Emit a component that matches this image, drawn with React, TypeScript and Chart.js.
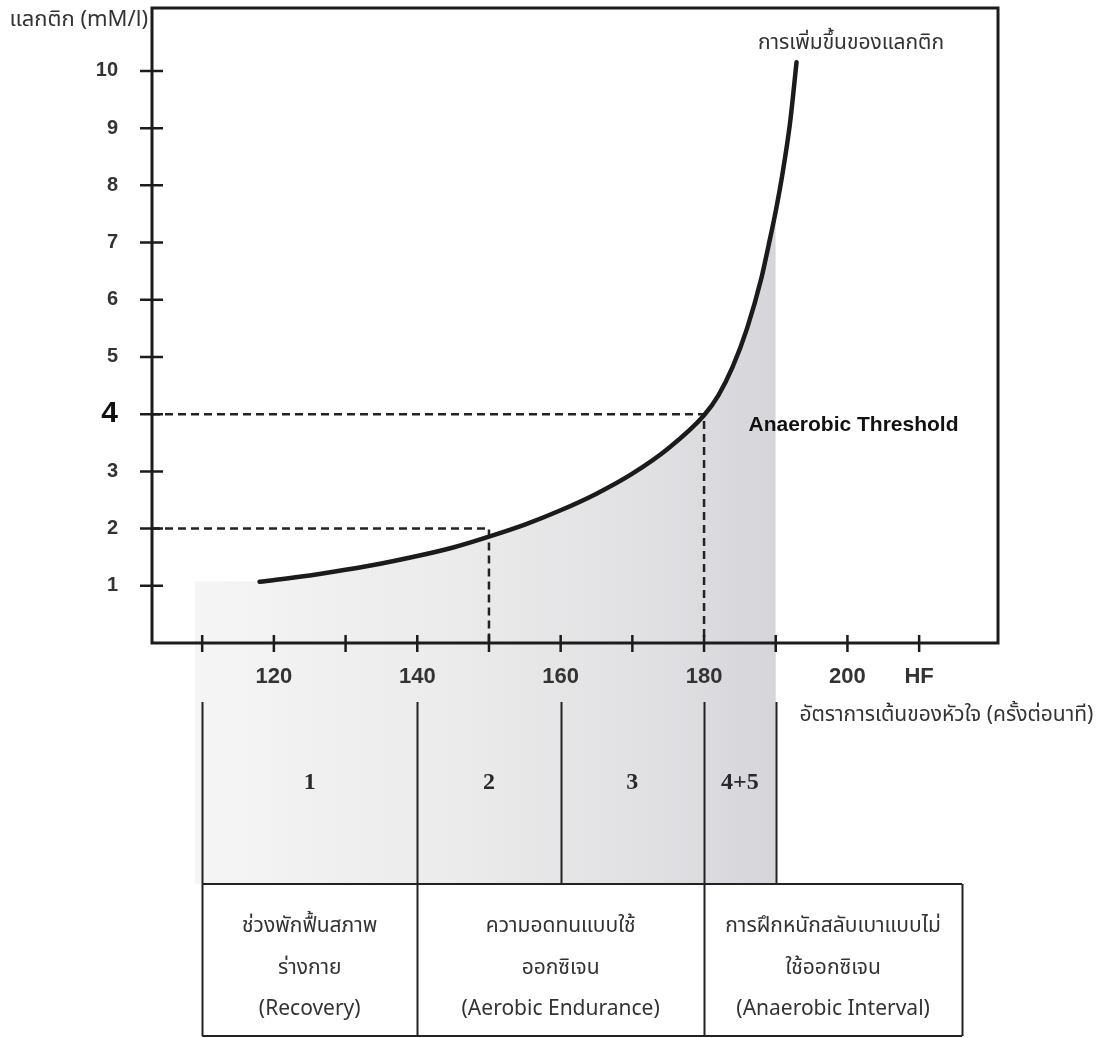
import React, { useEffect, useRef } from 'react';
import { Chart, registerables } from 'chart.js';

Chart.register(...registerables);

// ---- data ----
const curveHF = [118, 125, 130, 135, 140, 145, 150, 155, 160, 165, 170, 175, 180, 182, 184, 186, 188, 189, 190, 191, 192, 192.9];
const curveLactate = [1.07, 1.18, 1.28, 1.39, 1.52, 1.67, 1.86, 2.07, 2.32, 2.61, 2.96, 3.4, 3.98, 4.33, 4.83, 5.5, 6.38, 6.95, 7.55, 8.25, 9.1, 10.15];

const refHF = [150, 180];
const refLactate = [2, 4];

const yTickValues = [1, 2, 3, 4, 5, 6, 7, 8, 9, 10];
const xTickValues = [110, 120, 130, 140, 150, 160, 170, 180, 190, 200, 210];
const xTickText = ['', '120', '', '140', '', '160', '', '180', '', '200', 'HF'];

const shadeFrom = 109;
const shadeTo = 190;
const shadeLeftLevel = 1.08;

const zoneBounds = [110, 140, 160, 180, 190];
const zoneLabels = ['1', '2', '3', '4+5'];
const boxBounds = [110, 140, 180, 216];
const boxTexts = [
  ['ช่วงพักฟื้นสภาพ', 'ร่างกาย', '(Recovery)'],
  ['ความอดทนแบบใช้', 'ออกซิเจน', '(Aerobic Endurance)'],
  ['การฝึกหนักสลับเบาแบบไม่', 'ใช้ออกซิเจน', '(Anaerobic Interval)'],
];

const yTitle = 'แลกติก (mM/l)';
const xTitle = 'อัตราการเต้นของหัวใจ (ครั้งต่อนาที)';
const curveLabel = 'การเพิ่มขึ้นของแลกติก';
const curveLabelPos = [200.5, 10.45];
const thresholdLabel = 'Anaerobic Threshold';
const thresholdLabelPos = [186.2, 3.81];
const xTitleHF = 193.3;

const X_MIN = 103;
const X_MAX = 221;
const Y_MIN = 0;
const Y_MAX = 11.1;

const THAI = '"Noto Sans Thai", "Noto Sans", "DejaVu Sans", sans-serif';
const SANS = '"Liberation Sans", Arial, sans-serif';
const SERIF = '"Liberation Serif", "DejaVu Serif", serif';

function makeGradient(chart: any) {
  const c = chart.ctx;
  const x = chart.scales.x;
  const g = c.createLinearGradient(x.getPixelForValue(shadeFrom), 0, x.getPixelForValue(shadeTo), 0);
  g.addColorStop(0, '#f5f5f5');
  g.addColorStop(0.45, '#ebebeb');
  g.addColorStop(0.8, '#e0e0e3');
  g.addColorStop(1, '#d5d5da');
  return g;
}

const diagramPlugin = {
  id: 'diagram',
  beforeDraw(chart: any) {
    const { ctx, chartArea, scales } = chart;
    const x = scales.x;
    const b = chartArea.bottom;
    ctx.save();
    ctx.fillStyle = makeGradient(chart);
    const x0 = x.getPixelForValue(shadeFrom);
    const x1 = x.getPixelForValue(shadeTo);
    ctx.fillRect(x0, b, x1 - x0, 241);
    ctx.restore();
  },
  afterDraw(chart: any) {
    const { ctx, chartArea, scales } = chart;
    const x = scales.x;
    const y = scales.y;
    const { left, right, top, bottom } = chartArea;
    ctx.save();
    // frame
    ctx.strokeStyle = '#1c1c1c';
    ctx.lineWidth = 3;
    ctx.strokeRect(left, top, right - left, bottom - top);
    // crossing ticks
    ctx.lineWidth = 2.5;
    ctx.beginPath();
    yTickValues.forEach((v) => {
      const py = y.getPixelForValue(v);
      ctx.moveTo(left - 12, py);
      ctx.lineTo(left + 11, py);
    });
    xTickValues.forEach((v) => {
      const px = x.getPixelForValue(v);
      ctx.moveTo(px, bottom - 8);
      ctx.lineTo(px, bottom + 9);
    });
    ctx.stroke();

    // texts
    ctx.fillStyle = '#333';
    ctx.textBaseline = 'middle';
    ctx.font = `22px ${THAI}`;
    ctx.textAlign = 'right';
    ctx.fillText(yTitle, left - 4, top + 14);
    ctx.font = `21px ${THAI}`;
    ctx.textAlign = 'center';
    ctx.fillText(curveLabel, x.getPixelForValue(curveLabelPos[0]), y.getPixelForValue(curveLabelPos[1]));
    ctx.textAlign = 'left';
    ctx.fillText(xTitle, x.getPixelForValue(xTitleHF), bottom + 74);
    ctx.fillStyle = '#111';
    ctx.font = `bold 21px ${SANS}`;
    ctx.fillText(thresholdLabel, x.getPixelForValue(thresholdLabelPos[0]), y.getPixelForValue(thresholdLabelPos[1]));

    // lower diagram
    const zTop = bottom + 59;
    const bTop = bottom + 241;
    const bBot = bottom + 393;
    ctx.strokeStyle = '#222';
    ctx.lineWidth = 2;
    ctx.beginPath();
    zoneBounds.forEach((v) => {
      const px = Math.round(x.getPixelForValue(v)) + 0.5;
      ctx.moveTo(px, zTop);
      ctx.lineTo(px, bTop);
    });
    const bx0 = x.getPixelForValue(boxBounds[0]);
    const bx1 = x.getPixelForValue(boxBounds[boxBounds.length - 1]);
    ctx.moveTo(bx0, bTop);
    ctx.lineTo(bx1, bTop);
    ctx.moveTo(bx0, bBot);
    ctx.lineTo(bx1, bBot);
    boxBounds.forEach((v) => {
      const px = Math.round(x.getPixelForValue(v)) + 0.5;
      ctx.moveTo(px, bTop);
      ctx.lineTo(px, bBot);
    });
    ctx.stroke();

    ctx.fillStyle = '#2a2a2a';
    ctx.font = `bold 24px ${SERIF}`;
    ctx.textAlign = 'center';
    zoneLabels.forEach((t, i) => {
      const cx = (x.getPixelForValue(zoneBounds[i]) + x.getPixelForValue(zoneBounds[i + 1])) / 2;
      ctx.fillText(t, cx, bottom + 140);
    });

    ctx.fillStyle = '#333';
    ctx.font = `21px ${THAI}`;
    const lineOffsets = [285, 327, 368];
    boxTexts.forEach((lines, i) => {
      const cx = (x.getPixelForValue(boxBounds[i]) + x.getPixelForValue(boxBounds[i + 1])) / 2;
      lines.forEach((t, j) => ctx.fillText(t, cx, bottom + lineOffsets[j]));
    });
    ctx.restore();
  },
};

export default function App() {
  const ref = useRef<HTMLCanvasElement>(null);
  useEffect(() => {
    const curve = curveHF.map((h, i) => ({ x: h, y: curveLactate[i] }));
    const shade = [{ x: shadeFrom, y: shadeLeftLevel }, ...curve.filter((p) => p.x <= shadeTo)];
    const refSets = refHF.map((h, i) => ({
      data: [
        { x: X_MIN, y: refLactate[i] },
        { x: h, y: refLactate[i] },
        { x: h, y: Y_MIN },
      ],
      borderColor: '#222',
      borderWidth: 2.5,
      borderDash: [8, 5],
      pointRadius: 0,
      tension: 0,
      fill: false,
      order: 2,
    }));
    const zeroPad = (s: any) => {
      s.paddingTop = 0;
      s.paddingBottom = 0;
      s.paddingLeft = 0;
      s.paddingRight = 0;
    };
    const chart = new Chart(ref.current as HTMLCanvasElement, {
      type: 'line',
      data: {
        datasets: [
          {
            data: curve,
            borderColor: '#1b1b1b',
            borderWidth: 4.5,
            pointRadius: 0,
            cubicInterpolationMode: 'monotone',
            fill: false,
            order: 0,
            borderCapStyle: 'round',
          } as any,
          ...refSets,
          {
            data: shade,
            borderWidth: 0,
            borderColor: 'rgba(0,0,0,0)',
            pointRadius: 0,
            cubicInterpolationMode: 'monotone',
            fill: 'origin',
            backgroundColor: (c: any) => (c.chart.chartArea ? makeGradient(c.chart) : '#e6e6e6'),
            order: 3,
          } as any,
        ],
      },
      options: {
        responsive: false,
        animation: false,
        layout: { autoPadding: false, padding: { left: 0, top: 8, right: 110, bottom: 0 } },
        plugins: { legend: { display: false }, tooltip: { enabled: false } },
        scales: {
          x: {
            type: 'linear',
            min: X_MIN,
            max: X_MAX,
            grid: { display: false, drawTicks: false },
            border: { display: false },
            afterBuildTicks: (s: any) => {
              s.ticks = xTickValues.map((v) => ({ value: v }));
            },
            afterFit: (s: any) => {
              s.height = 395;
              zeroPad(s);
            },
            ticks: {
              autoSkip: false,
              maxRotation: 0,
              padding: 21,
              color: '#333',
              font: { family: SANS, size: 22, weight: 'bold' },
              callback: (v: any) => {
                const i = xTickValues.indexOf(Number(v));
                return i >= 0 ? xTickText[i] : '';
              },
            },
          },
          y: {
            type: 'linear',
            min: Y_MIN,
            max: Y_MAX,
            grid: { display: false, drawTicks: false },
            border: { display: false },
            afterBuildTicks: (s: any) => {
              s.ticks = yTickValues.map((v) => ({ value: v }));
            },
            afterFit: (s: any) => {
              s.width = 152;
              zeroPad(s);
            },
            ticks: {
              autoSkip: false,
              padding: 34,
              color: (c: any) => (c.tick && c.tick.value === 4 ? '#111' : '#333'),
              font: (c: any) =>
                c.tick && c.tick.value === 4
                  ? { family: SANS, size: 30, weight: 'bold' }
                  : { family: SANS, size: 20, weight: 'bold' },
              callback: (v: any) => String(v),
            },
          },
        },
      } as any,
      plugins: [diagramPlugin],
    });
    return () => chart.destroy();
  }, []);
  return (
    <div style={{ position: 'absolute', left: 0, top: 0, width: 1108, height: 1038, background: '#fff' }}>
      <canvas ref={ref} width={1108} height={1038} style={{ display: 'block' }} />
    </div>
  );
}
